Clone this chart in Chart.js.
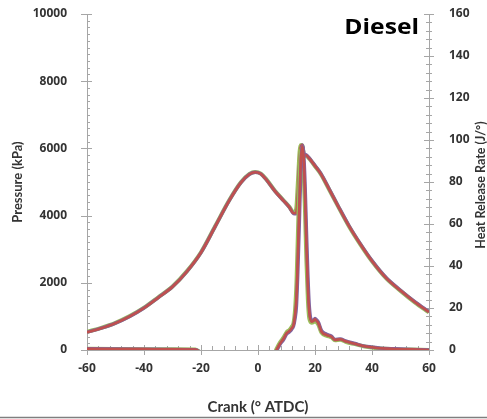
<!DOCTYPE html>
<html>
<head>
<meta charset="utf-8">
<script src="https://cdn.jsdelivr.net/npm/chart.js@4"></script>
<style>
html,body{margin:0;padding:0;background:#fff;}
#wrap{position:relative;width:487px;height:419px;}
</style>
</head>
<body>
<div id="wrap"><canvas id="c" width="487" height="419"></canvas></div>
<script>
// ---- data ----
const crankP = [-60,-55,-50,-45,-40,-35,-30,-25,-20,-15,-10,-6,-3,-1,1,3,6,9,11,12.5,13.4,14.0,14.6,15.2,15.6,16.2,16.8,17.5,18.5,20,22,25,28,32,36,40,45,50,55,60];
const pressureRed = [530,650,800,1000,1250,1560,1880,2330,2900,3680,4460,4980,5230,5290,5240,5060,4720,4440,4250,4070,4080,4600,5700,6080,6100,5780,5800,5750,5650,5480,5250,4780,4300,3680,3140,2650,2140,1770,1430,1130];
const pressureGreen = [540,660,810,1010,1260,1570,1890,2340,2910,3690,4470,4990,5240,5300,5250,5070,4730,4450,4260,4090,4200,5000,5900,6100,6080,5760,5790,5740,5640,5470,5240,4770,4290,3670,3130,2640,2130,1760,1420,1120];
const pressurePurple = [530,650,800,1000,1250,1560,1880,2330,2900,3680,4460,4980,5230,5290,5240,5060,4720,4440,4250,4060,4050,4300,5500,6000,6100,5820,5810,5760,5660,5490,5260,4790,4310,3690,3150,2660,2150,1780,1440,1140];

const crankH = [-60,-50,-40,-30,-22,-18,-10,0,5,6.5,7.7,9,10,11,11.8,12.5,13,13.5,14,14.5,15,15.5,16,16.5,17,17.5,18,18.8,19.4,20,20.6,21.2,22.3,24.1,25.8,27,28.8,31,34,37,40,43,48,54,60];
const hrrRed    = [0.6,0.5,0.4,0.3,0.2,-3,-3,-3,-4,0,3,5.5,7.9,9,10.3,12,16.7,25,45,68,89,97,92,75,50,30,18,13.5,13.8,14.6,13.8,12.7,8.7,7.1,6.3,4.8,5.1,4,3,1.9,1.3,0.8,0.5,0.3,0];
const hrrGreen  = [0.6,0.5,0.4,0.3,0.2,-3,-3,-3,-4,0.5,3.5,6,8.4,9.5,11,13,19,32,55,78,94,96,86,66,42,24,15,13,13.2,14,13.2,12,8.2,6.8,6,4.6,4.9,3.8,2.8,1.8,1.2,0.7,0.4,0.2,0];
const hrrPurple = [0.6,0.5,0.4,0.3,0.2,-3,-3,-3,-4,-0.5,2.6,5,7.5,8.6,9.8,11.5,15,21,38,60,84,97,94,80,57,36,21,14.2,14.2,15,14.3,13.2,9.2,7.5,6.6,5,5.3,4.2,3.1,2,1.4,0.9,0.6,0.3,0];

const xTicks = [-60,-40,-20,0,20,40,60];
const leftTicks = [0,2000,4000,6000,8000,10000];
const rightTicks = [0,20,40,60,80,100,120,140,160];

const pts = (xs, ys) => xs.map((x, i) => ({x: x, y: ys[i]}));

const FONT = '"Open Sans", Lato, sans-serif';
const TFONT = 'Lato, "Open Sans", sans-serif';
const TXT = '#333333';
const AX = '#A6A6A6';
const RED = '#C0504D', GREEN = '#9BBB59', PURPLE = '#8064A2';

const extra = {
  id: 'extra',
  beforeDatasetsDraw(chart) {
    const ctx = chart.ctx;
    const x = chart.scales.x, yl = chart.scales.yL, yr = chart.scales.yR;
    const area = chart.chartArea;
    ctx.save();
    ctx.strokeStyle = AX;
    ctx.lineWidth = 1;
    ctx.beginPath();
    for (let v = 0; v <= 10000; v += 200) {
      const py = Math.round(yl.getPixelForValue(v)) + 0.5;
      if (v % 2000 === 0) { ctx.moveTo(area.left - 6, py); ctx.lineTo(area.left + 5, py); }
      else { ctx.moveTo(area.left, py); ctx.lineTo(area.left + 3, py); }
    }
    for (let v = 0; v <= 160; v += 4) {
      const py = Math.round(yr.getPixelForValue(v)) + 0.5;
      if (v % 20 === 0) { ctx.moveTo(area.right - 5, py); ctx.lineTo(area.right + 5, py); }
      else { ctx.moveTo(area.right - 3, py); ctx.lineTo(area.right + 3, py); }
    }
    for (let v = -60; v <= 60; v += 4) {
      const px = Math.round(x.getPixelForValue(v)) + 0.5;
      if (v % 20 === 0) { ctx.moveTo(px, area.bottom - 5); ctx.lineTo(px, area.bottom + 5); }
      else { ctx.moveTo(px, area.bottom - 4); ctx.lineTo(px, area.bottom); }
    }
    ctx.stroke();
    ctx.restore();
  },
  afterDraw(chart) {
    const ctx = chart.ctx;
    ctx.save();
    ctx.fillStyle = TXT;
    ctx.font = 'bold 12.5px ' + TFONT;
    ctx.textAlign = 'center';
    ctx.textBaseline = 'middle';
    ctx.translate(481, 185);
    ctx.rotate(-Math.PI / 2);
    ctx.fillText('Heat Release Rate (J/°)', 0, 0);
    ctx.restore();
    ctx.save();
    ctx.fillStyle = '#000';
    ctx.font = 'bold 22px ' + FONT;
    ctx.textAlign = 'right';
    ctx.textBaseline = 'alphabetic';
    ctx.translate(419, 34);
    ctx.scale(1.12, 1);
    ctx.fillText('Diesel', 0, 0);
    ctx.restore();
    ctx.save();
    ctx.strokeStyle = '#7f7f7f';
    ctx.lineWidth = 1.5;
    ctx.beginPath();
    ctx.moveTo(0, 417.5); ctx.lineTo(487, 417.5);
    ctx.stroke();
    ctx.restore();
  }
};

const lineDs = (label, data, color, width, axis, order) => ({
  label, data, borderColor: color, borderWidth: width, yAxisID: axis, order,
  pointRadius: 0, fill: false, cubicInterpolationMode: 'monotone'
});

const plain = v => String(v);
const fitY = w => function (s) { s.width = w; s.paddingTop = 7; s.paddingBottom = 7; };

new Chart(document.getElementById('c'), {
  type: 'line',
  data: {
    datasets: [
      lineDs('P green', pts(crankP, pressureGreen), GREEN, 4, 'yL', 6),
      lineDs('P purple', pts(crankP, pressurePurple), PURPLE, 3.4, 'yL', 5),
      lineDs('P red', pts(crankP, pressureRed), RED, 2.6, 'yL', 4),
      lineDs('HRR green', pts(crankH, hrrGreen), GREEN, 4, 'yR', 3),
      lineDs('HRR purple', pts(crankH, hrrPurple), PURPLE, 3.4, 'yR', 2),
      lineDs('HRR red', pts(crankH, hrrRed), RED, 2.6, 'yR', 1)
    ]
  },
  options: {
    responsive: false,
    animation: false,
    events: [],
    layout: { padding: { top: 14, left: 0, right: 0, bottom: 0 } },
    plugins: { legend: { display: false }, tooltip: { enabled: false } },
    scales: {
      x: {
        type: 'linear', min: -60, max: 60,
        afterFit(s) { s.height = 69; },
        afterBuildTicks(s) { s.ticks = xTicks.map(v => ({value: v})); },
        ticks: { padding: 11, color: TXT, callback: plain, font: { family: FONT, weight: 'bold', size: 12 } },
        grid: { display: false, drawTicks: false },
        border: { display: true, color: AX, width: 1 },
        title: { display: true, text: 'Crank (° ATDC)', color: TXT, font: { family: TFONT, weight: 'bold', size: 15 }, padding: { top: 0, bottom: 3 } }
      },
      yL: {
        type: 'linear', position: 'left', min: 0, max: 10000,
        afterFit: fitY(87),
        afterBuildTicks(s) { s.ticks = leftTicks.map(v => ({value: v})); },
        ticks: { padding: 20, color: TXT, callback: plain, font: { family: FONT, weight: 'bold', size: 12 } },
        grid: { display: false, drawTicks: false },
        border: { display: true, color: AX, width: 1 },
        title: { display: true, text: 'Pressure (kPa)', color: TXT, font: { family: TFONT, weight: 'bold', size: 13 }, padding: { top: 10, bottom: 0 } }
      },
      yR: {
        type: 'linear', position: 'right', min: 0, max: 160,
        afterFit: fitY(58),
        afterBuildTicks(s) { s.ticks = rightTicks.map(v => ({value: v})); },
        ticks: { padding: 20, color: TXT, callback: plain, font: { family: FONT, weight: 'bold', size: 12 } },
        grid: { display: false, drawTicks: false },
        border: { display: true, color: AX, width: 1 }
      }
    }
  },
  plugins: [extra]
});
</script>
</body>
</html>
